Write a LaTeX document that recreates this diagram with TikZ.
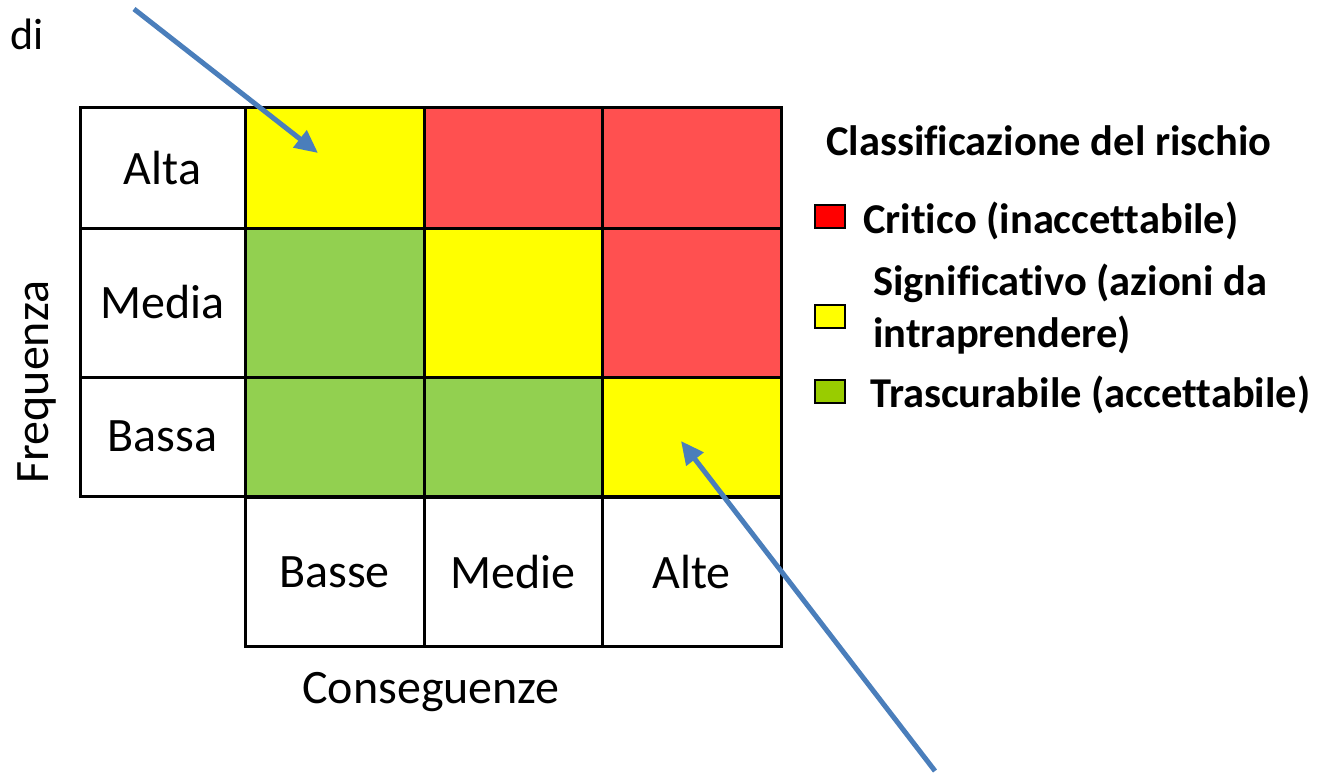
\documentclass[tikz,border=0pt]{standalone}
\usepackage{fontspec}
\setmainfont{Carlito}[RawFeature={-liga;-clig;-dlig;-calt}]
\usetikzlibrary{arrows.meta}
\definecolor{cellyellow}{RGB}{255,255,0}
\definecolor{cellred}{RGB}{255,80,80}
\definecolor{cellgreen}{RGB}{146,208,80}
\definecolor{keyred}{RGB}{255,0,0}
\definecolor{keyyellow}{RGB}{255,255,0}
\definecolor{keygreen}{RGB}{153,204,0}
\definecolor{pointer}{RGB}{74,126,187}
\tikzset{
  cell/.style={draw=black, line width=3pt, inner sep=0pt, font=\fontsize{48}{56}\selectfont},
  keybox/.style={draw=black, line width=2pt, minimum width=30pt, minimum height=23pt, inner sep=0pt},
  keytext/.style={anchor=base west, inner sep=0pt, font=\bfseries\fontsize{42.5}{50}\selectfont},
  axislabel/.style={inner sep=0pt, font=\fontsize{48}{56}\selectfont},
  pointerarrow/.style={draw=pointer, line width=5pt, -{Triangle[length=23pt,width=21pt]}}
}
\begin{document}
\begin{tikzpicture}[x=1pt,y=-1pt]
\useasboundingbox (0,0) rectangle (1324,773);

% row labels (frequency)
\node[cell, minimum width=165pt, minimum height=120pt] (alta)  at (162.5,168)   {Alta};
\node[cell, minimum width=165pt, minimum height=149pt] (media) at (162.5,302.5) {Media};
\node[cell, minimum width=165pt, minimum height=119pt] (bassa) at (162.5,436.5) {Bassa};

% risk cells
\node[cell, fill=cellyellow, minimum width=179pt, minimum height=120pt] (c11) at (334.5,168) {};
\node[cell, fill=cellred,    minimum width=178pt, minimum height=120pt] (c12) at (513,168)   {};
\node[cell, fill=cellred,    minimum width=179pt, minimum height=120pt] (c13) at (691.5,168) {};
\node[cell, fill=cellgreen,  minimum width=179pt, minimum height=149pt] (c21) at (334.5,302.5) {};
\node[cell, fill=cellyellow, minimum width=178pt, minimum height=149pt] (c22) at (513,302.5)   {};
\node[cell, fill=cellred,    minimum width=179pt, minimum height=149pt] (c23) at (691.5,302.5) {};
\node[cell, fill=cellgreen,  minimum width=179pt, minimum height=119pt] (c31) at (334.5,436.5) {};
\node[cell, fill=cellgreen,  minimum width=178pt, minimum height=119pt] (c32) at (513,436.5)   {};
\node[cell, fill=cellyellow, minimum width=179pt, minimum height=119pt] (c33) at (691.5,436.5) {};

% column labels (consequences)
\node[cell, minimum width=179pt, minimum height=149pt] (basse) at (334.5,572) {Basse};
\node[cell, minimum width=178pt, minimum height=149pt] (medie) at (513,572)   {Medie};
\node[cell, minimum width=179pt, minimum height=149pt] (alte)  at (691.5,572) {Alte};

% axis titles
\node[axislabel, rotate=90] (freq) at (37,382) {Frequenza};
\node[axislabel, anchor=base] (cons) at (431,703) {Conseguenze};
\node[inner sep=0pt, anchor=base west, font=\fontsize{44}{50}\selectfont] (di) at (10,50) {di};

% legend
\node[anchor=base west, inner sep=0pt, font=\bfseries\fontsize{42.5}{50}\selectfont] (title) at (826,155) {Classificazione del rischio};
\node[keybox, fill=keyred]    (kred)    at (830,216.5) {};
\node[keybox, fill=keyyellow] (kyellow) at (830,316.5) {};
\node[keybox, fill=keygreen]  (kgreen)  at (830,391.5) {};
\node[keytext] (tred)     at (863,233) {Critico (inaccettabile)};
\node[keytext] (tyellow)  at (873,295) {Significativo (azioni da};
\node[keytext] (tyellow2) at (873,347) {intraprendere)};
\node[keytext] (tgreen)   at (870,407) {Trascurabile (accettabile)};

% pointers
\coordinate (p1tail) at (134,9);
\coordinate (p1tip)  at (318,153);
\coordinate (p2tail) at (935,771);
\coordinate (p2tip)  at (681,441);
\draw[pointerarrow] (p1tail) -- (p1tip);
\draw[pointerarrow] (p2tail) -- (p2tip);
\end{tikzpicture}
\end{document}
